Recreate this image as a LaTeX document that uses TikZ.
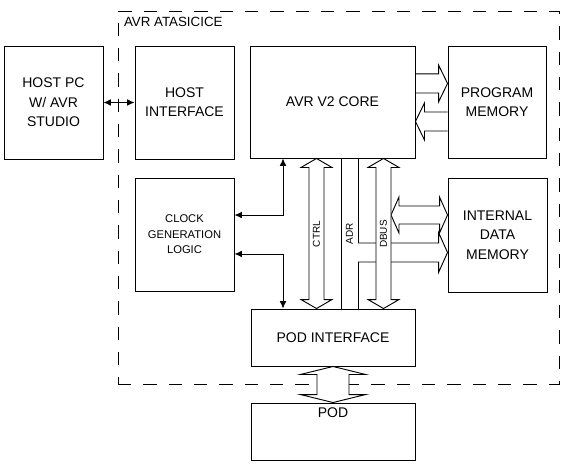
\documentclass[tikz,border=0pt]{standalone}
\usepackage{fontspec}
\setmainfont{Liberation Sans}
\usetikzlibrary{arrows.meta,calc}

% one pixel of the drawing
\def\pxu{0.75pt}

\tikzset{
  block/.style={draw, align=center, inner sep=0pt, font=\fontsize{10.5}{14.5}\selectfont},
  smallblock/.style={block, font=\fontsize{8.4}{11.6}\selectfont},
  buslabel/.style={rotate=90, inner sep=0pt, font=\fontsize{7.5}{9}\selectfont},
  bus shaft/.store in=\busshaft,
  bus head/.store in=\bushead,
  bus tip/.store in=\bustip,
  bus shaft=7.5, bus head=15.5, bus tip=9,
  % wide double arrow, top to bottom
  vbus/.style={to path={let \p1=(\tikztostart), \p2=(\tikztotarget) in
    (\x1,\y1) -- (\x1+\bushead*\pxu,\y1-\bustip*\pxu) -- (\x1+\busshaft*\pxu,\y1-\bustip*\pxu)
    -- (\x1+\busshaft*\pxu,\y2+\bustip*\pxu) -- (\x1+\bushead*\pxu,\y2+\bustip*\pxu) -- (\x1,\y2)
    -- (\x1-\bushead*\pxu,\y2+\bustip*\pxu) -- (\x1-\busshaft*\pxu,\y2+\bustip*\pxu)
    -- (\x1-\busshaft*\pxu,\y1-\bustip*\pxu) -- (\x1-\bushead*\pxu,\y1-\bustip*\pxu) -- cycle}},
  % wide double arrow, left to right
  hbus/.style={to path={let \p1=(\tikztostart), \p2=(\tikztotarget) in
    (\x1,\y1) -- (\x1+\bustip*\pxu,\y1+\bushead*\pxu) -- (\x1+\bustip*\pxu,\y1+\busshaft*\pxu)
    -- (\x2-\bustip*\pxu,\y1+\busshaft*\pxu) -- (\x2-\bustip*\pxu,\y1+\bushead*\pxu) -- (\x2,\y1)
    -- (\x2-\bustip*\pxu,\y1-\bushead*\pxu) -- (\x2-\bustip*\pxu,\y1-\busshaft*\pxu)
    -- (\x1+\bustip*\pxu,\y1-\busshaft*\pxu) -- (\x1+\bustip*\pxu,\y1-\bushead*\pxu) -- cycle}},
  % wide single arrow, open tail, head at the target
  sbus/.style={to path={let \p1=(\tikztostart), \p2=(\tikztotarget), \n1={sign(\x2-\x1)*\bustip*\pxu} in
    (\x1,\y1+\busshaft*\pxu) -- (\x2-\n1,\y1+\busshaft*\pxu)
    -- (\x2-\n1,\y1+\bushead*\pxu) -- (\x2,\y1)
    -- (\x2-\n1,\y1-\bushead*\pxu) -- (\x2-\n1,\y1-\busshaft*\pxu)
    -- (\x1,\y1-\busshaft*\pxu)}},
}

\begin{document}
\begin{tikzpicture}[x=0.75pt, y=-0.75pt, line width=0.7pt,
    >={Latex[length=5.5pt,width=5pt]}]
  \useasboundingbox (0,0) rectangle (567,467);

  % emulator outline
  \node[draw, dashed, dash pattern=on 10pt off 9pt, minimum width=330.75pt, minimum height=279.75pt] (ice) at (338.5,197.5) {};
  \node[anchor=north west, inner sep=0pt, font=\fontsize{10}{12}\selectfont] (icelbl) at ([shift={(6,6)}]ice.north west) {AVR ATASICICE};

  % blocks
  \node[block, minimum width=74.25pt, minimum height=84.75pt] (hostpc) at (53.5,102.5) {HOST PC\\W/ AVR\\STUDIO};
  \node[block, minimum width=74.25pt, minimum height=84.75pt] (hostif) at (184.5,102.5) {HOST\\INTERFACE};
  \node[block, minimum width=123.75pt, minimum height=84pt] (core) at (332.5,102) {AVR V2 CORE};
  \node[block, minimum width=73.5pt, minimum height=84pt] (progmem) at (497,102) {PROGRAM\\MEMORY};
  \node[smallblock, minimum width=74.25pt, minimum height=84.75pt] (clock) at (184.5,234.5) {CLOCK\\GENERATION\\LOGIC};
  \node[block, minimum width=74.25pt, minimum height=85.5pt] (datamem) at (497.5,235) {INTERNAL\\DATA\\MEMORY};
  \node[block, minimum width=123pt, minimum height=42.75pt] (podif) at (333,337.5) {POD INTERFACE};
  \node[block, minimum width=123pt, minimum height=42.75pt,
    label={[anchor=north, inner sep=3.5pt, font=\fontsize{10.5}{12}\selectfont]north:POD}] (pod) at (333,431.5) {};

  % host link
  \draw[<->] (hostpc) -- (hostif);

  % clock lines
  \coordinate (tap) at (283,0);
  \draw[<->] (tap |- core.south) |- ([yshift=14.6pt]clock.east);
  \draw[<->] ([yshift=-14.6pt]clock.east) -| (tap |- podif.north);

  % program memory buses
  \draw[bus shaft=9.5, bus head=18.5] ([yshift=13.9pt]core.east) to[sbus] ([yshift=13.9pt]progmem.west);
  \draw[bus shaft=9.5, bus head=18.5] ([yshift=-14.6pt]progmem.west) to[sbus] ([yshift=-14.6pt]core.east);

  % CTRL, ADR and DBUS
  \coordinate (ctrl) at (316.5,0);
  \coordinate (dbus) at (383.5,0);
  \coordinate (adrl) at (341,0);
  \coordinate (adrr) at (358,0);
  \coordinate (adrtap) at (358,252.5);
  \coordinate (dtap) at (391,215);
  \draw (adrl |- core.south) -- (adrl |- podif.north);
  \draw (adrr |- core.south) -- ([yshift=7.1pt]adrtap);
  \draw ([yshift=-7.1pt]adrtap) -- (adrr |- podif.north);
  \draw[bus shaft=9.5, bus head=20] (adrtap) to[sbus] (datamem.west |- adrtap);
  \draw[bus shaft=9, bus head=18, bus tip=8] (dtap) to[hbus] (datamem.west |- dtap);
  \draw (ctrl |- core.south) to[vbus] (ctrl |- podif.north);
  \draw[fill=white] (dbus |- core.south) to[vbus] (dbus |- podif.north);
  \node[buslabel] (ctrllbl) at (316.5,234) {CTRL};
  \node[buslabel] (adrlbl) at (349.5,234) {ADR};
  \node[buslabel] (dbuslbl) at (383.5,234) {DBUS};

  % pod link
  \draw[fill=white, bus shaft=16, bus head=32.5, bus tip=8] (podif.south) to[vbus] (pod.north);
\end{tikzpicture}
\end{document}
